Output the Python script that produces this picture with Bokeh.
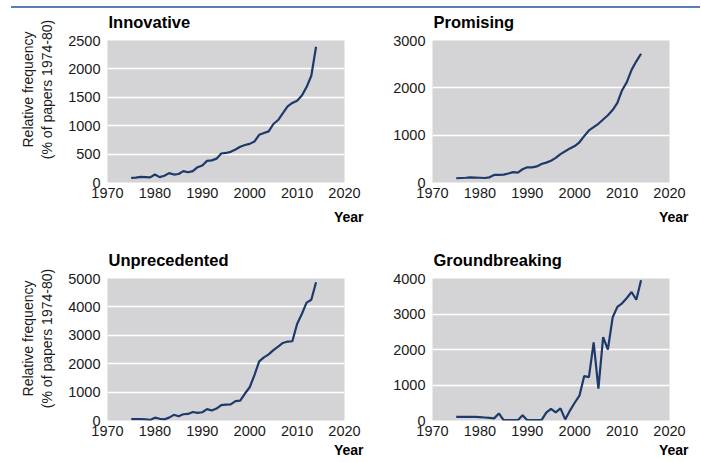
from bokeh.plotting import figure
from bokeh.layouts import column, row
from bokeh.models import FixedTicker, Range1d, Div, Title, LinearAxis
from bokeh.embed import file_html
from bokeh.resources import INLINE

# ---------------- data ----------------
years = list(range(1975, 2015))

innovative = [80, 85, 100, 95, 90, 140, 95, 120, 165, 140,
              150, 200, 180, 200, 270, 300, 380, 390, 420, 510,
              520, 540, 580, 630, 660, 680, 720, 840, 870, 900,
              1030, 1100, 1220, 1340, 1400, 1440, 1530, 1680, 1880, 2390]

promising = [90, 95, 100, 110, 105, 100, 95, 110, 160, 160,
             165, 190, 220, 210, 280, 320, 320, 340, 390, 420,
             460, 520, 600, 660, 720, 770, 850, 980, 1100, 1170,
             1240, 1330, 1420, 1530, 1680, 1950, 2120, 2380, 2560, 2720]

unprecedented = [50, 50, 50, 40, 20, 100, 60, 40, 100, 200,
                 150, 220, 230, 300, 270, 290, 400, 350, 420, 540,
                 560, 570, 680, 700, 950, 1170, 1600, 2080, 2220, 2330,
                 2480, 2600, 2730, 2780, 2790, 3400, 3750, 4150, 4250, 4870]

groundbreaking = [100, 100, 100, 100, 100, 95, 85, 75, 60, 200,
                  10, 10, 10, 10, 150, 10, 10, 10, 10, 220,
                  330, 230, 340, 30, 280, 500, 700, 1250, 1220, 2200,
                  900, 2350, 2000, 2900, 3200, 3300, 3450, 3620, 3400, 3950]

x_ticks = [1970, 1980, 1990, 2000, 2010, 2020]
innovative_ticks = [0, 500, 1000, 1500, 2000, 2500]
promising_ticks = [0, 1000, 2000, 3000]
unprecedented_ticks = [0, 1000, 2000, 3000, 4000, 5000]
groundbreaking_ticks = [0, 1000, 2000, 3000, 4000]

titles = ["Innovative", "Promising", "Unprecedented", "Groundbreaking"]
y_label_lines = ["Relative frequency", "(% of papers 1974-80)"]
x_label = "Year"

# ---------------- style ----------------
FONT = "Liberation Sans"
FRAME_FILL = "#d4d4d6"
LINE_COLOR = "#1d3a6b"
TEXT_COLOR = "#1a1a1a"
RULE_COLOR = "#5b7db5"
FRAME_H = 142


def bare_axis(ax):
    ax.axis_line_color = None
    ax.major_tick_line_color = None
    ax.minor_tick_line_color = None
    ax.major_tick_in = 0
    ax.major_tick_out = 0
    ax.minor_tick_in = 0
    ax.minor_tick_out = 0


def make_panel(title, values, yticks, width, height, b_left, b_right, b_top, b_bottom,
               year_standoff, ylabel_drop=None):
    p = figure(width=width, height=height,
               x_range=Range1d(x_ticks[0], x_ticks[-1]),
               y_range=Range1d(yticks[0], yticks[-1]),
               output_backend="svg", toolbar_location=None,
               min_border_left=b_left, min_border_right=b_right,
               min_border_top=b_top, min_border_bottom=b_bottom)
    p.background_fill_color = FRAME_FILL
    p.border_fill_color = None
    p.outline_line_color = None
    p.xgrid.grid_line_color = None
    p.ygrid.grid_line_color = "white"
    p.ygrid.grid_line_width = 1.5
    p.xaxis.ticker = FixedTicker(ticks=x_ticks)
    p.yaxis.ticker = FixedTicker(ticks=yticks)
    for ax in (p.xaxis[0], p.yaxis[0]):
        bare_axis(ax)
        ax.major_label_text_font = FONT
        ax.major_label_text_font_size = "14.5px"
        ax.major_label_text_color = TEXT_COLOR
    p.xaxis.major_label_standoff = 5
    p.yaxis.major_label_standoff = 7

    p.line(years, values, line_color=LINE_COLOR, line_width=2.2)

    p.title.text = title
    p.title.align = "left"
    p.title.offset = 1
    p.title.standoff = 19
    p.title.text_font = FONT
    p.title.text_font_style = "bold"
    p.title.text_font_size = "16.5px"
    p.title.text_color = "black"

    p.add_layout(Title(text=x_label, align="right", offset=-19, standoff=year_standoff,
                       text_font=FONT, text_font_style="bold",
                       text_font_size="14px", text_color="black"), "below")

    if ylabel_drop is not None:
        span = yticks[-1] - yticks[0]
        yc = int(round(yticks[-1] - ylabel_drop * span / FRAME_H))
        for txt, so in ((y_label_lines[1], 10), (y_label_lines[0], 0)):
            ax = LinearAxis(ticker=FixedTicker(ticks=[yc]),
                            major_label_overrides={yc: txt},
                            major_label_orientation="vertical",
                            major_label_standoff=so,
                            major_label_text_font=FONT,
                            major_label_text_font_size="14px",
                            major_label_text_color=TEXT_COLOR)
            bare_axis(ax)
            p.add_layout(ax, "left")
    return p


p1 = make_panel(titles[0], innovative, innovative_ticks, 368, 236, 107, 24, 40, 54,
                year_standoff=13, ylabel_drop=49)
p2 = make_panel(titles[1], promising, promising_ticks, 332, 236, 64, 31, 40, 54,
                year_standoff=13)
p3 = make_panel(titles[2], unprecedented, unprecedented_ticks, 368, 226, 107, 24, 42, 42,
                year_standoff=3, ylabel_drop=60)
p4 = make_panel(titles[3], groundbreaking, groundbreaking_ticks, 332, 226, 64, 31, 42, 42,
                year_standoff=3)

rule = Div(text="", width=689, height=2, margin=(6, 0, -8, 11),
           styles={"background-color": RULE_COLOR})

layout = column(rule, row(p1, p2), row(p3, p4))

with open("out.html", "w") as f:
    f.write(file_html(layout, INLINE))
